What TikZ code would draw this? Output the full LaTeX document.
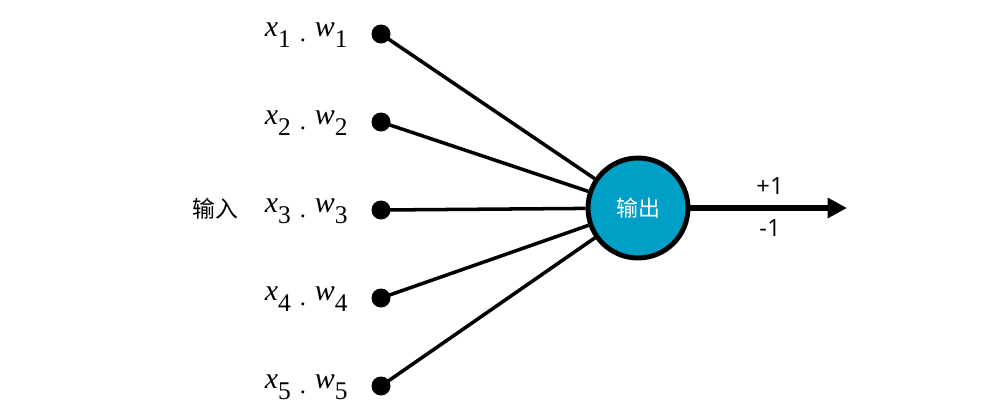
\documentclass[tikz,border=0pt]{standalone}
\usepackage{fontspec}
\setmainfont{Liberation Serif}
\newfontfamily\cjk{Noto Sans CJK SC}
\newfontfamily\numfont{Open Sans}
\usetikzlibrary{arrows.meta}
\definecolor{nodeblue}{RGB}{0,160,198}
\newcommand{\xw}[1]{\textit{x}\raisebox{-0.4em}{\fontsize{14.5pt}{15pt}\selectfont #1}\hspace{0.3em}\raisebox{-0.18em}{\fontsize{14pt}{15pt}\selectfont .}\hspace{0.3em}\textit{w}\raisebox{-0.4em}{\fontsize{14.5pt}{15pt}\selectfont #1}}
\begin{document}
\begin{tikzpicture}[x=0.02cm,y=-0.02cm,
  dot/.style={circle,fill=black,inner sep=0pt,minimum size=0.38cm},
  lbl/.style={anchor=base east,inner sep=0pt,font=\fontsize{17pt}{20pt}\selectfont},
  edge/.style={line width=2pt},
  outnode/.style={circle,draw=black,line width=2.8pt,fill=nodeblue,inner sep=0pt,minimum size=2cm,text=white,font=\cjk\fontsize{12.5pt}{14pt}\selectfont},
  side/.style={font=\numfont\fontsize{13.5pt}{15pt}\selectfont,inner sep=0pt}]
\useasboundingbox (0,0) rectangle (1001,417);
\node[outnode] (out) at (638,208) {输出};
\foreach \i/\y in {1/34,2/122,3/210,4/298,5/386}{
  \node[dot] (d\i) at (381,\y) {};
  \node[lbl] (l\i) at (348,\y+2) {\xw{\i}};
  \draw[edge] (d\i.center) -- (out);
}
\node[font=\cjk\fontsize{13pt}{15pt}\selectfont,inner sep=0pt] (in) at (215,209) {输入};
\coordinate (tip) at (847,208);
\draw[line width=3pt,-{Triangle[length=11pt,width=11pt]}] (out) -- (tip);
\node[side] (p1) at (770,186) {+1};
\node[side] (m1) at (770,228) {-1};
\end{tikzpicture}
\end{document}
